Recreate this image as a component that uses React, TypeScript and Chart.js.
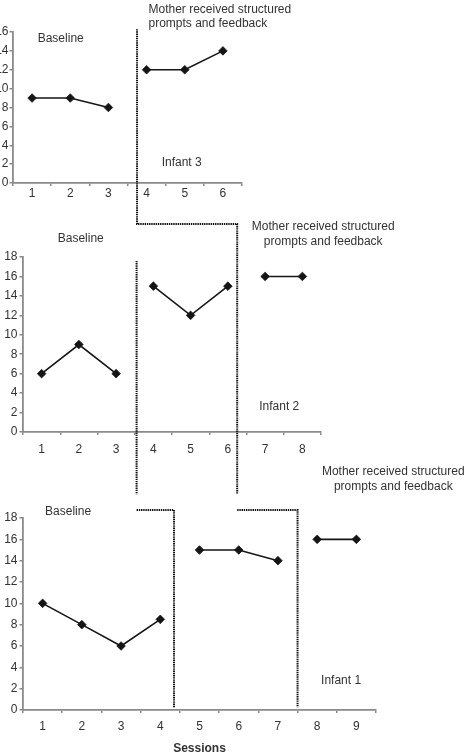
import React, { useEffect, useRef } from 'react';
import { Chart, registerables } from 'chart.js';

Chart.register(...registerables);

const WIDTH = 464;
const HEIGHT = 756;

// Infant 3 (top panel)
const infant3Sessions = ['1', '2', '3', '4', '5', '6'];
const infant3Baseline = [9, 9, 8];
const infant3Intervention = [12, 12, 14];

// Infant 2 (middle panel)
const infant2Sessions = ['1', '2', '3', '4', '5', '6', '7', '8'];
const infant2Baseline = [6, 9, 6];
const infant2Intervention = [15, 12, 15];
const infant2Followup = [16, 16];

// Infant 1 (bottom panel)
const infant1Sessions = ['1', '2', '3', '4', '5', '6', '7', '8', '9'];
const infant1Baseline = [10, 8, 6, 8.5];
const infant1Intervention = [15, 15, 14];
const infant1Followup = [16, 16];

// Phase-change positions, in session units of each panel
const infant3Changes = [3.75];
const infant2Changes = [3.55, 6.25];
const infant1Changes = [4.35, 7.5];

const BASELINE = 'Baseline';
const CONDITION = ['Mother received structured', 'prompts and feedback'];

const FONT = "'Liberation Sans', Arial, Helvetica, sans-serif";
const AXIS_COLOR = '#8a8a8a';
const TEXT_COLOR = '#333333';
const MARK_COLOR = '#151515';

type Note = { lines: string[]; session: number; value: number; align: CanvasTextAlign };

type PanelSpec = {
  sessions: string[];
  phases: number[][];
  yMax: number;
  area: { left: number; top: number; right: number; bottom: number };
  xAxisHeight: number;
  labelPad: number;
  yLabelPad: number;
  title?: string;
  notes: Note[];
};

const panels: PanelSpec[] = [
  {
    sessions: infant3Sessions,
    phases: [infant3Baseline, infant3Intervention],
    yMax: 16,
    area: { left: 13, top: 32, right: 242, bottom: 183 },
    xAxisHeight: 28,
    labelPad: 0,
    yLabelPad: 1,
    notes: [
      { lines: [BASELINE], session: 1.75, value: 15.25, align: 'center' },
      { lines: CONDITION, session: 4.05, value: 18.4, align: 'left' },
      { lines: ['Infant 3'], session: 4.92, value: 2.12, align: 'center' },
    ],
  },
  {
    sessions: infant2Sessions,
    phases: [infant2Baseline, infant2Intervention, infant2Followup],
    yMax: 18,
    area: { left: 23, top: 257, right: 321, bottom: 432 },
    xAxisHeight: 28,
    labelPad: 7,
    yLabelPad: 2,
    notes: [
      { lines: [BASELINE], session: 2.05, value: 19.86, align: 'center' },
      { lines: CONDITION, session: 8.56, value: 21.1, align: 'center' },
      { lines: ['Infant 2'], session: 7.38, value: 2.57, align: 'center' },
    ],
  },
  {
    sessions: infant1Sessions,
    phases: [infant1Baseline, infant1Intervention, infant1Followup],
    yMax: 18,
    area: { left: 23, top: 518, right: 376, bottom: 710 },
    xAxisHeight: 46,
    labelPad: 6,
    yLabelPad: 2,
    title: 'Sessions',
    notes: [
      { lines: [BASELINE], session: 1.65, value: 18.56, align: 'center' },
      { lines: CONDITION, session: 9.94, value: 22.3, align: 'center' },
      { lines: ['Infant 1'], session: 8.61, value: 2.72, align: 'center' },
    ],
  },
];

// Dotted phase-change guides. Each vertex takes its x from one panel's
// session scale and its y from a (possibly different) panel's value scale.
type Anchor = { xPanel: number; session: number; yPanel: number; value: number };
const at = (xPanel: number, session: number, yPanel: number, value: number): Anchor => ({
  xPanel,
  session,
  yPanel,
  value,
});

const guideTopInfant3 = 16.3;
const guideTopInfant2 = 17.6;
const stepAboveInfant2 = 21.4;
const guideEndInfant2 = -6.4;
const stepAboveInfant1 = 18.75;
const guideEndInfant1 = 0.25;

const guides: Anchor[][] = [
  [
    at(0, infant3Changes[0], 0, guideTopInfant3),
    at(0, infant3Changes[0], 1, stepAboveInfant2),
    at(1, infant2Changes[1], 1, stepAboveInfant2),
    at(1, infant2Changes[1], 1, guideEndInfant2),
  ],
  [
    at(1, infant2Changes[1], 2, stepAboveInfant1),
    at(2, infant1Changes[1], 2, stepAboveInfant1),
    at(2, infant1Changes[1], 2, guideEndInfant1),
  ],
  [at(1, infant2Changes[0], 1, guideTopInfant2), at(1, infant2Changes[0], 1, guideEndInfant2)],
  [
    at(1, infant2Changes[0], 2, stepAboveInfant1),
    at(2, infant1Changes[0], 2, stepAboveInfant1),
    at(2, infant1Changes[0], 2, guideEndInfant1),
  ],
];

function phaseDatasets(spec: PanelSpec) {
  let start = 0;
  return spec.phases.map((values) => {
    const data = values.map((v, i) => ({ x: spec.sessions[start + i], y: v }));
    start += values.length;
    return {
      data,
      borderColor: MARK_COLOR,
      borderWidth: 1.6,
      pointStyle: 'rectRot' as const,
      pointRadius: 4.3,
      pointBorderWidth: 0.8,
      pointBackgroundColor: MARK_COLOR,
      pointBorderColor: MARK_COLOR,
      fill: false,
      tension: 0,
    };
  });
}

const notesPlugin = {
  id: 'panelNotes',
  afterDraw(chart: any, _args: any, opts: any) {
    const notes: Note[] = opts.notes || [];
    const { ctx } = chart;
    const xs = chart.scales.x;
    const ys = chart.scales.y;
    ctx.save();
    ctx.fillStyle = TEXT_COLOR;
    ctx.font = `12px ${FONT}`;
    ctx.textBaseline = 'middle';
    notes.forEach((n) => {
      const x = xs.getPixelForValue(n.session - 1);
      const y = ys.getPixelForValue(n.value);
      ctx.textAlign = n.align;
      n.lines.forEach((line, i) => ctx.fillText(line, x, y + i * 14.8));
    });
    ctx.restore();
  },
};

// Drawn by the bottom chart; the charts above it are already built.
function makeGuidePlugin(charts: Chart[]) {
  return {
    id: 'phaseGuides',
    afterDraw(chart: any) {
      const panelChart = (i: number): any => charts[i] ?? chart;
      const { ctx } = chart;
      ctx.save();
      ctx.strokeStyle = '#111111';
      ctx.lineWidth = 2;
      ctx.setLineDash([1.4, 0.8]);
      guides.forEach((path) => {
        ctx.beginPath();
        path.forEach((p, i) => {
          const x = panelChart(p.xPanel).scales.x.getPixelForValue(p.session - 1);
          const y = panelChart(p.yPanel).scales.y.getPixelForValue(p.value);
          if (i === 0) ctx.moveTo(x, y);
          else ctx.lineTo(x, y);
        });
        ctx.stroke();
      });
      ctx.restore();
    },
  };
}

export default function App() {
  const refs = [useRef<HTMLCanvasElement>(null), useRef<HTMLCanvasElement>(null), useRef<HTMLCanvasElement>(null)];

  useEffect(() => {
    const charts: Chart[] = [];
    panels.forEach((spec, idx) => {
      const canvas = refs[idx].current;
      if (!canvas) return;
      const isLast = idx === panels.length - 1;
      const chart = new Chart(canvas, {
        type: 'line',
        data: { labels: spec.sessions, datasets: phaseDatasets(spec) as any },
        plugins: isLast ? [notesPlugin, makeGuidePlugin(charts)] : [notesPlugin],
        options: {
          responsive: false,
          animation: false,
          events: [],
          layout: {
            padding: {
              left: 0,
              top: spec.area.top,
              right: WIDTH - spec.area.right,
              bottom: HEIGHT - spec.area.bottom - spec.xAxisHeight,
            },
          },
          plugins: {
            legend: { display: false },
            tooltip: { enabled: false },
            panelNotes: { notes: spec.notes },
          } as any,
          scales: {
            x: {
              type: 'category',
              offset: true,
              grid: {
                offset: true,
                drawOnChartArea: false,
                drawTicks: true,
                tickLength: 3,
                color: AXIS_COLOR,
                lineWidth: 1.5,
              },
              border: { display: true, color: AXIS_COLOR, width: 1.8 },
              ticks: {
                padding: spec.labelPad,
                color: TEXT_COLOR,
                font: { family: FONT, size: 12 },
                maxRotation: 0,
                autoSkip: false,
              },
              title: spec.title
                ? {
                    display: true,
                    text: spec.title,
                    color: TEXT_COLOR,
                    font: { family: FONT, size: 12, weight: 'bold' },
                    padding: { top: 0, bottom: 0 },
                  }
                : { display: false },
              afterFit: (s: any) => {
                s.height = spec.xAxisHeight;
              },
            },
            y: {
              type: 'linear',
              min: 0,
              max: spec.yMax,
              grid: {
                drawOnChartArea: false,
                drawTicks: true,
                tickLength: 3.5,
                color: AXIS_COLOR,
                lineWidth: 1.5,
              },
              border: { display: true, color: AXIS_COLOR, width: 1.8 },
              ticks: {
                stepSize: 2,
                padding: spec.yLabelPad,
                color: TEXT_COLOR,
                font: { family: FONT, size: 12 },
              },
              afterFit: (s: any) => {
                s.width = spec.area.left;
              },
            },
          },
        } as any,
      });
      charts.push(chart);
    });
    return () => {
      charts.forEach((c) => c.destroy());
    };
  }, []);

  return (
    <div
      style={{
        position: 'absolute',
        left: 0,
        top: 0,
        width: WIDTH,
        height: HEIGHT,
        background: '#ffffff',
        overflow: 'hidden',
      }}
    >
      {refs.map((r, i) => (
        <canvas
          key={i}
          ref={r}
          width={WIDTH}
          height={HEIGHT}
          style={{ position: 'absolute', left: 0, top: 0, width: WIDTH, height: HEIGHT }}
        />
      ))}
    </div>
  );
}
